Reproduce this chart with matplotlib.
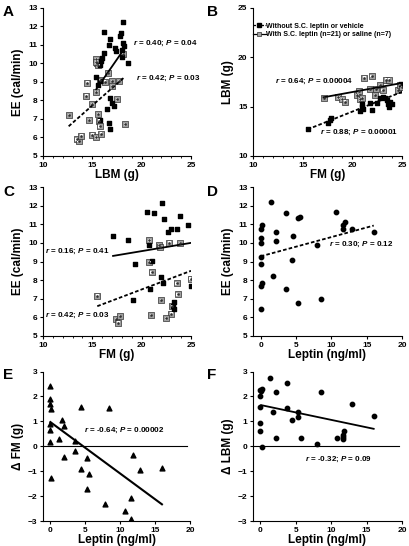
import numpy as np
import matplotlib.pyplot as plt
from matplotlib.lines import Line2D
from matplotlib.ticker import MultipleLocator

plt.rcParams['font.family'] = ['Liberation Sans', 'DejaVu Sans']
plt.rcParams['font.weight'] = 'bold'
plt.rcParams['mathtext.fontset'] = 'custom'
plt.rcParams['mathtext.bfit'] = 'Liberation Sans:italic:bold'
plt.rcParams['mathtext.it'] = 'Liberation Sans:italic:bold'

# ---- data ----
# Panel A: LBM (g) vs EE (cal/min)
a_blk_lbm = [16.2, 18.15, 17.8, 17.9, 16.75, 16.7, 17.3, 17.35, 18.1, 18.2, 18.05, 16.15, 16.0, 15.9,
             15.8, 15.35, 15.8, 15.6, 18.6, 18.0, 16.8, 16.95, 17.2, 16.5, 15.8, 16.7, 16.8]
a_blk_ee = [11.7, 12.2, 11.45, 11.6, 11.3, 11.0, 10.8, 10.65, 11.1, 10.9, 10.7, 10.55, 10.3, 10.1,
            9.9, 9.25, 9.05, 8.8, 10.0, 10.35, 8.15, 7.85, 7.7, 7.55, 6.95, 6.8, 6.45]
a_gry_lbm = [12.65, 13.4, 13.6, 13.9, 14.4, 14.5, 14.7, 15.0, 15.0, 15.4, 15.4, 15.45, 15.6, 15.4,
             15.6, 15.7, 15.75, 15.9, 16.3, 16.6, 17.0, 17.0, 17.5, 17.7, 18.1, 18.3, 15.35, 15.8]
a_gry_ee = [7.2, 5.9, 5.8, 6.1, 8.25, 8.95, 6.95, 7.8, 6.15, 6.0, 10.2, 10.0, 9.9, 8.45,
            7.25, 6.9, 6.6, 6.2, 9.0, 9.45, 9.05, 8.75, 8.05, 9.05, 10.5, 6.7, 10.05, 9.1]
a_fit_blk_x, a_fit_blk_y = [15.4, 18.4], [8.6, 10.9]
a_fit_gry_x, a_fit_gry_y = [12.6, 18.2], [6.6, 9.22]

# Panel B: FM (g) vs LBM (g)
b_blk_fm = [15.55, 17.5, 17.75, 17.9, 20.8, 20.95, 21.0, 21.1, 21.8, 21.95, 22.45, 22.8, 23.06, 23.3,
            23.5, 23.6, 23.65, 23.8, 24.0, 24.9]
b_blk_lbm = [12.7, 13.3, 13.6, 13.9, 14.55, 15.0, 15.3, 14.8, 15.35, 14.65, 15.35, 15.85, 15.95, 15.85,
             15.7, 15.25, 15.0, 15.5, 15.3, 17.3]
b_gry_fm = [17.15, 18.6, 19.0, 19.26, 20.5, 20.7, 20.8, 21.2, 21.95, 21.8, 22.4, 22.8, 23.06, 23.4,
            23.7, 24.6, 24.8, 22.3, 21.0, 25.0]
b_gry_lbm = [15.9, 15.95, 15.75, 15.5, 16.2, 16.6, 15.75, 17.95, 18.1, 16.8, 16.8, 17.2, 16.7, 17.75,
             17.75, 16.7, 17.2, 16.2, 15.9, 17.0]
b_fit_blk_x, b_fit_blk_y = [15.5, 25.0], [12.7, 16.5]
b_fit_gry_x, b_fit_gry_y = [17.1, 25.0], [15.95, 17.4]

# Panel C: FM (g) vs EE (cal/min)
c_blk_fm = [17.12, 18.64, 20.5, 21.25, 22.1, 22.25, 22.7, 22.95, 23.55, 23.9, 24.7, 20.77, 19.32,
            21.01, 21.92, 19.15, 20.84, 22.19, 23.27, 23.3, 23.2, 24.95]
c_blk_ee = [10.38, 10.13, 11.67, 11.58, 12.14, 11.3, 10.6, 10.76, 10.76, 11.42, 10.97, 9.9, 8.87,
            9.05, 8.16, 6.93, 7.51, 7.87, 6.84, 6.45, 6.6, 7.7]
c_gry_fm = [20.77, 21.75, 22.8, 23.88, 20.77, 21.01, 23.54, 23.64, 15.5, 21.95, 23.07, 23.0, 22.46,
            20.94, 17.4, 17.63, 17.8, 24.96, 21.85]
c_gry_ee = [10.13, 9.86, 10.02, 9.98, 8.97, 8.41, 7.83, 7.24, 7.17, 6.94, 6.61, 6.2, 5.95,
            6.13, 5.9, 5.72, 6.07, 8.08, 9.8]
c_fit_blk_x, c_fit_blk_y = [17.1, 25.0], [9.3, 10.0]
c_fit_gry_x, c_fit_gry_y = [15.5, 25.0], [6.6, 8.5]

# Panel D: leptin (ng/ml) vs EE (cal/min)
d_leptin = [0, 0, 0, 0, 0, 0, 0, 0.2, 0.2, 1.4, 1.7, 2.1, 2.1, 3.6, 3.6, 4.4, 4.5, 5.3, 5.3, 5.5,
            7.9, 8.5, 10.7, 11.6, 11.7, 11.9, 12.9, 16.0]
d_ee = [6.45, 7.7, 8.85, 9.25, 10.0, 10.28, 10.77, 7.85, 10.95, 12.19, 8.2, 10.6, 10.1, 11.6, 7.55,
        9.1, 10.36, 11.31, 6.77, 11.4, 9.9, 6.96, 11.67, 10.77, 10.97, 11.12, 10.73, 10.57]
d_fit_x, d_fit_y = [0, 16], [9.28, 10.93]

# Panel E: leptin vs delta FM
e_leptin = [0, 0, 0, 0, 0, 0, 0.2, 0.2, 1.4, 1.7, 2.1, 2.1, 3.6, 3.6, 4.4, 4.5, 5.3, 5.3, 5.6,
            7.9, 8.4, 10.7, 11.6, 11.6, 11.9, 12.85, 16.0]
e_dfm = [2.42, 1.89, 1.7, 0.9, 0.65, 0.17, 1.49, -1.26, 0.28, 1.04, 0.82, -0.43, 0.21, -0.2, -0.91,
         1.58, -0.46, -1.71, -1.13, -2.31, 1.53, -2.58, -2.07, -2.92, -0.34, -0.95, -0.89]
e_fit_x, e_fit_y = [0.1, 16], [0.97, -2.33]

# Panel F: leptin vs delta LBM
f_leptin = [1.42, 3.69, 0, 0.14, 0.24, 2.13, 8.56, 0, 12.9, 0, 3.69, 1.8, 5.34, 5.34, 16.0, 4.4,
            0, 0, 11.87, 2.13, 5.67, 10.78, 11.6, 11.6, 11.6, 7.94, 0.24]
f_dlbm = [2.73, 2.53, 2.26, 2.2, 2.29, 2.16, 2.17, 2.0, 1.69, 1.56, 1.55, 1.38, 1.39, 1.19, 1.22, 1.04,
          0.95, 0.63, 0.62, 0.33, 0.33, 0.33, 0.36, 0.28, 0.45, 0.11, -0.05]
f_fit_x, f_fit_y = [0.1, 16], [1.65, 0.7]

fig = plt.figure(figsize=(4.09, 5.46), dpi=100)

LAB = 8.5  # axis label size


def make_ax(rect):
    ax = fig.add_axes(rect)
    ax.spines['top'].set_visible(False)
    ax.spines['right'].set_visible(False)
    ax.tick_params(direction='out', length=2.5, width=0.8, labelsize=6, pad=1.5)
    ax.tick_params(which='minor', direction='out', length=1.3, width=0.6)
    return ax


def gray_pts(ax, x, y, s=13):
    ax.scatter(x, y, marker='s', s=s, facecolor='#a0a0a0', edgecolor='#303030', linewidth=0.5, zorder=3)
    ax.scatter(x, y, marker='s', s=s * 0.25, facecolor='white', edgecolor='none', zorder=4)
    ax.scatter(x, y, marker='o', s=0.8, color='#303030', zorder=5)


def blk_pts(ax, x, y, s=11):
    ax.scatter(x, y, marker='s', s=s, color='black', zorder=3)


def stat(ax, x, y, r, p):
    ax.text(x, y, '$\\mathit{r}$ = ' + r + '; $\\mathit{P}$ = ' + p, fontsize=5.8,
            fontweight='bold', va='center', zorder=6)


def labels(ax, xl, yl):
    ax.set_xlabel(xl, fontsize=LAB, fontweight='bold', labelpad=0.5)
    ax.set_ylabel(yl, fontsize=LAB, fontweight='bold', labelpad=3)
    for t in ax.get_xticklabels() + ax.get_yticklabels():
        t.set_fontweight('bold')


W, H = 409, 546
rect_a = [43 / W, 1 - 156 / H, 148 / W, 148.5 / H]
rect_b = [253 / W, 1 - 156 / H, 149 / W, 148 / H]
rect_c = [43 / W, 1 - 336 / H, 148 / W, 149 / H]
rect_d = [253 / W, 1 - 336 / H, 149 / W, 149 / H]
rect_e = [43 / W, 1 - 521 / H, 147 / W, 149.5 / H]
rect_f = [253 / W, 1 - 521 / H, 149 / W, 149.5 / H]

# A
ax = make_ax(rect_a)
gray_pts(ax, a_gry_lbm, a_gry_ee)
blk_pts(ax, a_blk_lbm, a_blk_ee)
ax.plot(a_fit_blk_x, a_fit_blk_y, color='black', lw=1.3, zorder=4)
ax.plot(a_fit_gry_x, a_fit_gry_y, color='black', lw=1.3, ls=(0, (2, 1.2)), zorder=4)
stat(ax, 19.1, 11.05, '0.40', '0.04')
stat(ax, 19.4, 9.2, '0.42', '0.03')
ax.set_xlim(10, 25)
ax.set_ylim(5, 13)
ax.set_xticks([10, 15, 20, 25])
ax.xaxis.set_minor_locator(MultipleLocator(1))
labels(ax, 'LBM (g)', 'EE (cal/min)')

# B
ax = make_ax(rect_b)
gray_pts(ax, b_gry_fm, b_gry_lbm)
blk_pts(ax, b_blk_fm, b_blk_lbm)
ax.plot(b_fit_gry_x, b_fit_gry_y, color='black', lw=1.3, zorder=4)
ax.plot(b_fit_blk_x, b_fit_blk_y, color='black', lw=1.3, ls=(0, (2, 1.2)), zorder=4)
stat(ax, 12.2, 17.6, '0.64', '0.00004')
stat(ax, 16.7, 12.35, '0.88', '0.00001')
ax.set_xlim(10, 25)
ax.set_ylim(10, 25)
ax.set_xticks([10, 15, 20, 25])
ax.set_yticks([10, 15, 20, 25])
ax.xaxis.set_minor_locator(MultipleLocator(1))
labels(ax, 'FM (g)', 'LBM (g)')
h1 = Line2D([], [], color='black', lw=0.9, ls=(0, (2, 1.2)), marker='s', markersize=3,
            markerfacecolor='black', markeredgecolor='black')
h2 = Line2D([], [], color='black', lw=0.9, marker='s', markersize=3.5,
            markerfacecolor='#a0a0a0', markeredgecolor='#303030', markeredgewidth=0.5)
ax.legend([h1, h2], ['Without S.C. leptin or vehicle', 'With S.C. leptin (n=21) or saline (n=7)'],
          loc='upper left', bbox_to_anchor=(0.0, 0.9), frameon=False,
          handlelength=1.8, handletextpad=0.1, labelspacing=0.2, borderaxespad=0,
          borderpad=0, prop={'weight': 'bold', 'size': 5.0})

# C
ax = make_ax(rect_c)
gray_pts(ax, c_gry_fm, c_gry_ee)
blk_pts(ax, c_blk_fm, c_blk_ee)
ax.plot(c_fit_blk_x, c_fit_blk_y, color='black', lw=1.3, zorder=4)
ax.plot(c_fit_gry_x, c_fit_gry_y, color='black', lw=1.3, ls=(0, (2, 1.2)), zorder=4)
stat(ax, 10.25, 9.55, '0.16', '0.41')
stat(ax, 10.25, 6.13, '0.42', '0.03')
ax.set_xlim(10, 25)
ax.set_ylim(5, 13)
ax.set_xticks([10, 15, 20, 25])
ax.xaxis.set_minor_locator(MultipleLocator(1))
labels(ax, 'FM (g)', 'EE (cal/min)')

# D
ax = make_ax(rect_d)
ax.scatter(d_leptin, d_ee, marker='o', s=10, color='black', zorder=3)
ax.plot(d_fit_x, d_fit_y, color='black', lw=1.3, ls=(0, (2, 1.2)), zorder=4)
stat(ax, 9.6, 9.9, '0.30', '0.12')
ax.set_xlim(-1.1, 20)
ax.set_ylim(5, 13)
ax.set_xticks([0, 5, 10, 15, 20])
labels(ax, 'Leptin (ng/ml)', 'EE (cal/min)')

# E
ax = make_ax(rect_e)
ax.scatter(e_leptin, e_dfm, marker='^', s=12, color='black', zorder=3)
ax.plot([-1, 19.6], [0, 0], color='black', lw=0.8, zorder=2)
ax.plot(e_fit_x, e_fit_y, color='black', lw=1.5, zorder=4)
stat(ax, 4.85, 0.62, '-0.64', '0.00002')
ax.set_xlim(-0.95, 20)
ax.set_ylim(-3, 3)
ax.set_xticks([0, 5, 10, 15, 20])
labels(ax, 'Leptin (ng/ml)', '\u0394 FM (g)')

# F
ax = make_ax(rect_f)
ax.scatter(f_leptin, f_dlbm, marker='o', s=10, color='black', zorder=3)
ax.plot([-1.05, 19.6], [0, 0], color='black', lw=0.8, zorder=2)
ax.plot(f_fit_x, f_fit_y, color='black', lw=1.3, zorder=4)
stat(ax, 6.3, -0.52, '-0.32', '0.09')
ax.set_xlim(-1.05, 20)
ax.set_ylim(-3, 3)
ax.set_xticks([0, 5, 10, 15, 20])
labels(ax, 'Leptin (ng/ml)', '\u0394 LBM (g)')

# panel letters
for lab, x, y in [('A', 3, 12), ('B', 207, 12), ('C', 3, 192), ('D', 207, 192), ('E', 3, 375), ('F', 207, 375)]:
    fig.text(x / W, 1 - y / H, lab, fontsize=11, fontweight='bold', va='center', ha='left')

fig.savefig('out.png', dpi=100)
